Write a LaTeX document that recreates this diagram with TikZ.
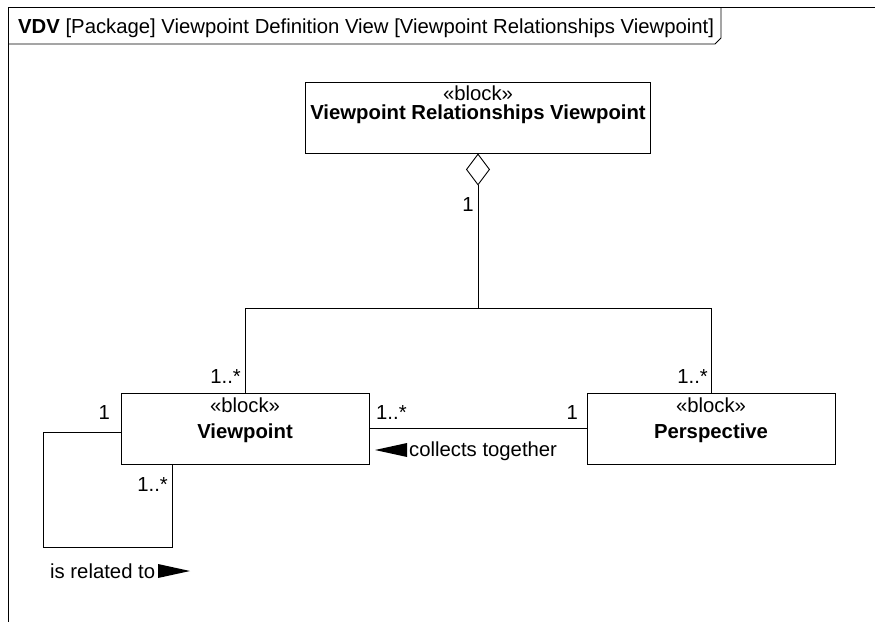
\documentclass[tikz,border=0pt]{standalone}
\usepackage{fontspec}
\setmainfont{Liberation Sans}
\usetikzlibrary{arrows.meta}
\begin{document}
\begin{tikzpicture}[x=1pt,y=-1pt,
  every node/.style={font=\fontsize{20.3}{24}\selectfont},
  blockbox/.style={draw,line width=0.9pt,inner sep=0pt,minimum width=248pt,minimum height=71pt},
  lbl/.style={inner sep=0pt,anchor=base},
  conn/.style={line width=0.9pt},
  tri/.style={fill=black,draw=none}]
\useasboundingbox (0,0) rectangle (875,621);
\begin{scope}
\clip (0,0) rectangle (875,621);
\draw[line width=0.9pt] (8,640) -- (8,7) -- (890,7);
\draw[line width=0.9pt] (8,44) -- (715,44) -- (721,38) -- (721,7);
\end{scope}
\node[lbl,anchor=base west] (title) at (18,33) {\textbf{VDV} [Package] Viewpoint Definition View [Viewpoint Relationships Viewpoint]};

% blocks
\node[blockbox,minimum width=345pt] (top) at (478,117.5) {};
\node[lbl] (topst) at (478,100) {«block»};
\node[lbl] (topnm) at (478,119) {\textbf{Viewpoint Relationships Viewpoint}};

\node[blockbox] (vp) at (245,428.5) {};
\node[lbl] (vpst) at (245,412) {«block»};
\node[lbl] (vpnm) at (245,438) {\textbf{Viewpoint}};

\node[blockbox] (per) at (711,428.5) {};
\node[lbl] (perst) at (711,412) {«block»};
\node[lbl] (pernm) at (711,438) {\textbf{Perspective}};

% aggregation
\coordinate (j) at (478,308);
\draw[conn,{Diamond[open,length=32pt,width=24pt,line width=0.9pt]}-] (top.south) -- (j);
\draw[conn] (j) -| (vp.north);
\draw[conn] (j) -| (per.north);
\node[lbl] (m1) at (468,211) {1};
\node[lbl,anchor=base east] (m2) at (241,383) {1..*};
\node[lbl,anchor=base east] (m3) at (708,383) {1..*};

% collects together
\draw[conn] (vp.east) -- (per.west);
\node[lbl,anchor=base west] (m4) at (376,419) {1..*};
\node[lbl,anchor=base east] (m5) at (578,419) {1};
\node[lbl,anchor=base west] (ct) at (409,456) {collects together};
\coordinate (ctt) at (375,450);
\fill[tri] (ctt) -- ++(32,-7) -- ++(0,14) -- cycle;

% self association
\coordinate (sa) at (43,547);
\draw[conn] ([yshift=-3.5pt]vp.west) -| (sa) -| ([xshift=52pt]vp.south west);
\node[lbl,anchor=base east] (m6) at (110,419) {1};
\node[lbl,anchor=base east] (m7) at (168,491) {1..*};
\node[lbl,anchor=base west] (rt) at (50,578) {is related to};
\coordinate (rtt) at (190,571);
\fill[tri] (rtt) -- ++(-32,-7) -- ++(0,14) -- cycle;
\end{tikzpicture}
\end{document}
